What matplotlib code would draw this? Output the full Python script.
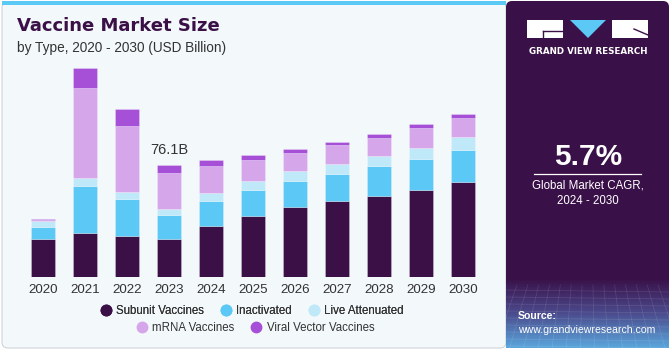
import matplotlib
matplotlib.use("Agg")
import matplotlib.pyplot as plt
import numpy as np
from matplotlib.patches import FancyBboxPatch, Rectangle, Polygon
from matplotlib.lines import Line2D
from matplotlib.colors import LinearSegmentedColormap

years = ["2020", "2021", "2022", "2023", "2024", "2025", "2026", "2027", "2028", "2029", "2030"]
subunit = [25.8, 29.9, 27.8, 25.8, 34.8, 41.4, 47.5, 51.6, 55.0, 59.1, 64.5]
inactivated = [8.4, 31.7, 25.3, 16.3, 16.8, 17.7, 17.7, 18.3, 20.4, 21.3, 21.9]
live_attenuated = [3.7, 5.6, 4.5, 3.9, 5.4, 6.1, 6.8, 7.0, 6.6, 7.3, 8.4]
mrna = [1.0, 60.9, 45.3, 24.9, 18.1, 14.1, 12.4, 12.5, 12.4, 13.4, 13.2]
viral_vector = [0.4, 13.6, 10.9, 5.2, 4.3, 3.4, 2.7, 2.0, 2.7, 2.9, 2.9]
series_names = ["Subunit Vaccines", "Inactivated", "Live Attenuated", "mRNA Vaccines", "Viral Vector Vaccines"]
annot_year = "2023"
annot_text = "76.1B"
cagr = "5.7%"

colors = ["#3a1047", "#5bc8f5", "#bfe9f9", "#d5a6ea", "#a650d8"]
SANS = "Liberation Sans"

W, H = 671, 350
fig = plt.figure(figsize=(W / 100, H / 100), dpi=100, facecolor="white")

bg = fig.add_axes([0, 0, 1, 1], zorder=0)
bg.set_xlim(0, W)
bg.set_ylim(H, 0)
bg.axis("off")
bg.add_patch(FancyBboxPatch((2, 2), 504, 346, boxstyle="round,pad=0,rounding_size=6",
                            facecolor="#f3f8fb", edgecolor="#d0d4d8", linewidth=0.8))
bg.add_patch(Rectangle((2, 1), 504, 4, facecolor="#5bc8f5", edgecolor="none"))
bg.add_patch(FancyBboxPatch((506, 1), 163, 347, boxstyle="round,pad=0,rounding_size=6",
                            facecolor="#3a1048", edgecolor="none"))
grad = np.linspace(0, 1, 100)[:, None]
cmap = LinearSegmentedColormap.from_list("g", ["#3a1048", "#4b4a8c", "#5aa6dc"])
bg.imshow(grad, extent=(506, 669, 348, 278), cmap=cmap, aspect="auto", zorder=1)
for yy in np.linspace(290, 346, 9):
    bg.plot([506, 669], [yy, yy + 2], color="white", alpha=0.12, lw=0.5, zorder=2)
for xx in np.linspace(506, 669, 16):
    bg.plot([xx, xx + (xx - 588) * 0.3], [285, 348], color="white", alpha=0.12, lw=0.5, zorder=2)

# logo
bg.add_patch(Rectangle((527, 20), 36, 18, facecolor="white", edgecolor="none", zorder=3))
bg.plot([543, 563], [31, 31], color="#3a1048", lw=1, zorder=4)
bg.plot([543, 543], [31, 38], color="#3a1048", lw=1, zorder=4)
bg.add_patch(Polygon([[570, 20], [606, 20], [588, 38]], closed=True, facecolor="#5bc8f5", edgecolor="none", zorder=3))
bg.add_patch(Rectangle((612, 20), 36, 18, facecolor="white", edgecolor="none", zorder=3))
bg.plot([634, 648], [29, 35], color="#3a1048", lw=1, zorder=4)
bg.text(588, 51, "GRAND VIEW RESEARCH", color="white", fontsize=6.3, fontweight="bold",
        ha="center", va="center", family="DejaVu Sans", zorder=4)

bg.text(588, 157, cagr, color="white", fontsize=21.5, fontweight="bold", ha="center", va="center",
        family=SANS, zorder=4)
bg.plot([534, 641], [173.5, 173.5], color="white", lw=0.9, zorder=4)
bg.text(588, 186, "Global Market CAGR,", color="white", fontsize=8.3, ha="center", va="center",
        family=SANS, zorder=4)
bg.text(588, 201, "2024 - 2030", color="white", fontsize=8.3, ha="center", va="center",
        family=SANS, zorder=4)
bg.text(518, 316, "Source:", color="white", fontsize=7.6, fontweight="bold", ha="left", va="center",
        family=SANS, zorder=4)
bg.text(518, 330, "www.grandviewresearch.com", color="white", fontsize=7.6, ha="left", va="center",
        family=SANS, zorder=4)

# titles
bg.text(17, 26, "Vaccine Market Size", color="#3a1047", fontsize=13, fontweight="heavy",
        ha="left", va="center", family="DejaVu Sans", zorder=4)
bg.text(17, 48, "by Type, 2020 - 2030 (USD Billion)", color="#333333", fontsize=9.8,
        ha="left", va="center", family=SANS, zorder=4)

# main chart
ax = fig.add_axes([17.8 / W, 73 / H, 470.1 / W, 217 / H], zorder=2)
ax.patch.set_alpha(0)
x = np.arange(len(years))
bottom = np.zeros(len(years))
data = [subunit, inactivated, live_attenuated, mrna, viral_vector]
for vals, c, name in zip(data, colors, series_names):
    ax.bar(x, vals, bottom=bottom, width=0.57, color=c, label=name,
           edgecolor=(1, 1, 1, 0.35), linewidth=0.5)
    bottom += np.array(vals)
ax.set_xlim(-0.6, len(years) - 0.4)
ax.set_ylim(0, 147.4)
ax.set_xticks(x)
ax.set_xticklabels(years, fontsize=9.6, color="#333333", family=SANS)
ax.tick_params(axis="x", length=0, pad=5)
ax.set_yticks([])
for s in ax.spines.values():
    s.set_visible(False)
i = years.index(annot_year)
ax.text(x[i], bottom[i] + 5.5, annot_text, ha="center", va="bottom", fontsize=10.5,
        color="#333333", family=SANS)

# legend
handles = [Line2D([0], [0], marker="o", color="none", markerfacecolor=c, markeredgecolor=c,
                  markersize=7.5) for c in colors]
kw = dict(loc="center", frameon=False, handletextpad=0.4, columnspacing=1.4, handlelength=1.0,
          labelcolor="#333333", prop={"family": SANS, "size": 8.3})
row1 = fig.legend(handles[:3], series_names[:3], bbox_to_anchor=(252 / W, 1 - 311 / H), ncol=3, **kw)
fig.add_artist(row1)
fig.legend(handles[3:], series_names[3:], bbox_to_anchor=(255 / W, 1 - 328 / H), ncol=2, **kw)

fig.savefig("out.png", dpi=100, facecolor="white")
